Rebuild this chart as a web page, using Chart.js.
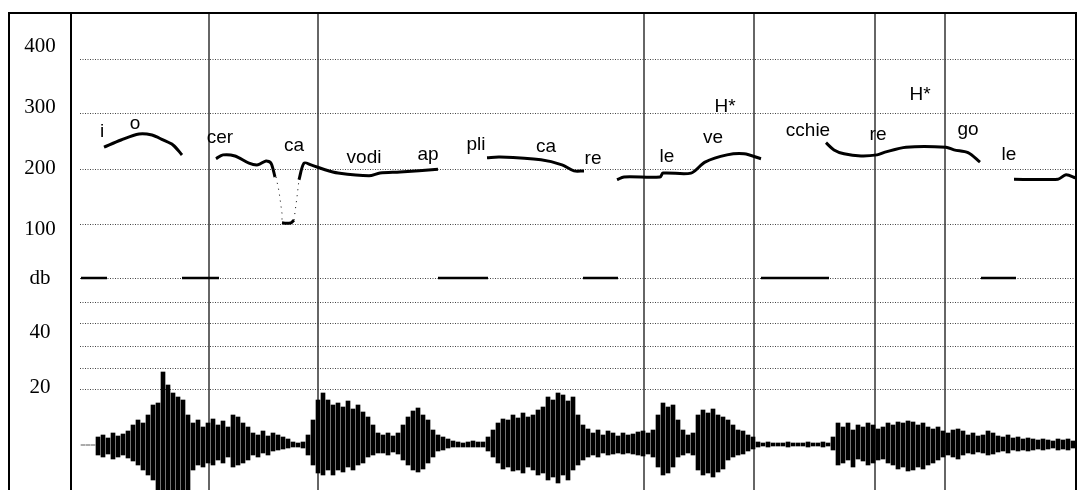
<!DOCTYPE html>
<html><head><meta charset="utf-8">
<script src="https://cdn.jsdelivr.net/npm/chart.js@4"></script>
<style>html,body{margin:0;padding:0;background:#fff}#w{width:1079px;height:490px}</style>
</head><body><div id="w"><canvas id="c" width="1079" height="490"></canvas></div>
<script>
// pitch contour (time units, Hz)
const pitchT  = [33,50,68,81,92,102,111,null,145,152,164,178,187,195,200,204,null,211,215,220,223,null,228,233,240,254,267,298,309,329,367,null,416,429,470,491,503,513,null,546,553,589,592,620,634,656,673,690,null,755,763,773,790,806,814,835,875,883,897,909,null,943,987,995,1005];
const pitchHz = [240,253,264,262,253,244,226,null,219,226,224,211,208,215,211,186,null,103,102,103,108,null,181,211,208,199,193,188,193,195,200,null,221,222,217,208,197,197,null,181,186,186,193,193,213,226,228,219,null,248,235,228,224,226,231,240,240,235,230,213,null,182,182,190,184];
const dipT  = [205,208,211,211,null,223,226,228];
const dipHz = [186,160,120,103,null,108,150,181];
// db segments
const dbLevel = 3;
const dbSegs = [[10,36],[111,148],[367,417],[512,547],[690,758],[910,945]];
// boundaries
const boundaries = [138,247,573,683,804,874];
// syllable labels
const sylText = ["i","o","cer","ca","vodi","ap","pli","ca","re","le","ve","H*","cchie","re","H*","go","le"];
const sylT    = [31,64,149,223,293,357,405,475,522,596,642,654,737,807,849,897,938];
const sylHz   = [268,282,257,242,221,226,244,240,219,222,257,313,269,262,335,271,226];
// left labels
const leftText = ["400","300","200","100","db","40","20"];
const leftVal  = [422,311,202,90,3,-95,-196];
// dotted grid positions
const gridVals = [400,302,200,100,3,-41,-79,-120,-160,-198];
// waveform envelope, step 5
const waveStep = 5;
const waveUp = [0,0,0,8,10,7,12,9,11,14, 20,25,22,30,40,42,73,60,52,48, 45,30,22,25,18,22,26,20,24,18, 30,28,22,18,12,10,14,9,12,10,
 8,6,3,2,3,10,25,45,52,45, 40,42,38,44,36,40,33,28,20,12, 10,12,9,12,20,28,34,37,30,25, 15,10,8,6,4,3,2,3,4,3,
 3,8,15,22,26,25,30,27,32,28, 30,35,38,48,45,52,50,44,48,30, 20,16,12,15,10,14,12,9,12,10, 11,13,14,12,15,30,42,38,40,25,
 15,10,12,30,35,32,36,30,28,25, 20,15,14,10,8,3,2,3,2,2, 2,3,2,2,2,3,2,2,3,2, 8,22,18,22,15,20,18,22,20,16,
 18,22,20,23,22,24,23,20,22,18, 16,18,14,12,15,16,14,10,12,9, 10,14,12,9,8,10,7,8,6,7, 6,5,6,5,4,6,5,6,4,5,4];
const waveDown = [0,0,0,10,12,9,14,12,10,13, 16,20,25,30,35,45,50,50,50,50, 48,45,25,20,22,18,20,15,18,12, 22,20,18,15,10,12,8,10,6,5,
 4,3,2,2,3,10,20,28,30,25, 30,25,27,22,25,20,18,12,10,8, 8,10,7,9,15,20,25,27,24,18, 12,6,5,3,2,2,2,2,2,2,
 2,6,12,18,24,22,26,25,28,22, 25,30,28,35,32,38,30,35,25,20, 15,12,10,12,8,10,9,8,9,8, 9,10,11,9,12,22,30,28,22,12,
 10,8,10,25,30,28,32,27,24,15, 12,10,9,6,4,2,1,2,1,1, 1,2,1,1,1,2,1,1,2,1, 5,20,18,15,22,14,16,20,18,15,
 14,18,20,24,22,26,25,22,24,20, 18,15,12,10,12,14,10,8,9,7, 8,10,9,7,6,8,5,6,5,6, 5,4,5,4,3,5,4,5,3,4,3];

const pts=(xs,ys)=>xs.map((x,i)=>({x:x,y:ys[i]}));
const dbData=[]; dbSegs.forEach(s=>{dbData.push({x:s[0],y:dbLevel},{x:s[1],y:dbLevel},{x:null,y:null});});
const waveData=waveUp.map((u,i)=>({x:i*waveStep+12,y:[-waveDown[i],u]}));

const deco={id:'deco',
 beforeDatasetsDraw(ch){const c=ch.ctx,x=ch.scales.x,y=ch.scales.y;c.save();
  c.strokeStyle='#444';c.lineWidth=1;c.setLineDash([1,1.5]);
  gridVals.forEach(v=>{const py=Math.round(y.getPixelForValue(v))+0.5;c.beginPath();c.moveTo(80,py);c.lineTo(1075,py);c.stroke();});
  c.setLineDash([]);c.strokeStyle='#333';c.lineWidth=1.5;
  boundaries.forEach(t=>{const px=x.getPixelForValue(t);c.beginPath();c.moveTo(px,14);c.lineTo(px,490);c.stroke();});
  c.restore();},
 afterDatasetsDraw(ch){const c=ch.ctx,x=ch.scales.x,y=ch.scales.y;c.save();
  c.fillStyle='#000';c.textAlign='center';c.textBaseline='middle';
  c.font='19px "Liberation Sans", Arial, sans-serif';
  sylText.forEach((s,i)=>c.fillText(s,x.getPixelForValue(sylT[i]),y.getPixelForValue(sylHz[i])));
  c.font='21px "Liberation Serif", "Times New Roman", serif';
  leftText.forEach((s,i)=>c.fillText(s,40,y.getPixelForValue(leftVal[i])));
  c.strokeStyle='#000';c.lineWidth=2;
  c.beginPath();c.moveTo(9,491);c.lineTo(9,13);c.lineTo(1076,13);c.lineTo(1076,491);c.stroke();
  c.beginPath();c.moveTo(71,13);c.lineTo(71,491);c.stroke();
  c.restore();}};

new Chart(document.getElementById('c'),{
 data:{datasets:[
  {type:'bar',data:waveData,yAxisID:'y2',backgroundColor:'#000',barThickness:4,order:3},
  {type:'line',data:pts(pitchT,pitchHz),borderColor:'#000',borderWidth:3,pointRadius:0,spanGaps:false,tension:0.3,order:1},
  {type:'line',data:pts(dipT,dipHz),borderColor:'#000',borderWidth:1,borderDash:[1,5],pointRadius:0,spanGaps:false,order:1},
  {type:'line',data:dbData,borderColor:'#000',borderWidth:2.5,pointRadius:0,spanGaps:false,order:1}
 ]},
 options:{responsive:false,animation:false,
  layout:{padding:{left:71,top:13,right:4,bottom:0}},
  plugins:{legend:{display:false},tooltip:{enabled:false}},
  scales:{
   x:{type:'linear',min:0,max:1004,display:false,offset:false,grid:{offset:false}},
   y:{min:-381,max:483,display:false},
   y2:{min:-45,max:432,display:false}
  }},
 plugins:[deco]});
</script></body></html>
